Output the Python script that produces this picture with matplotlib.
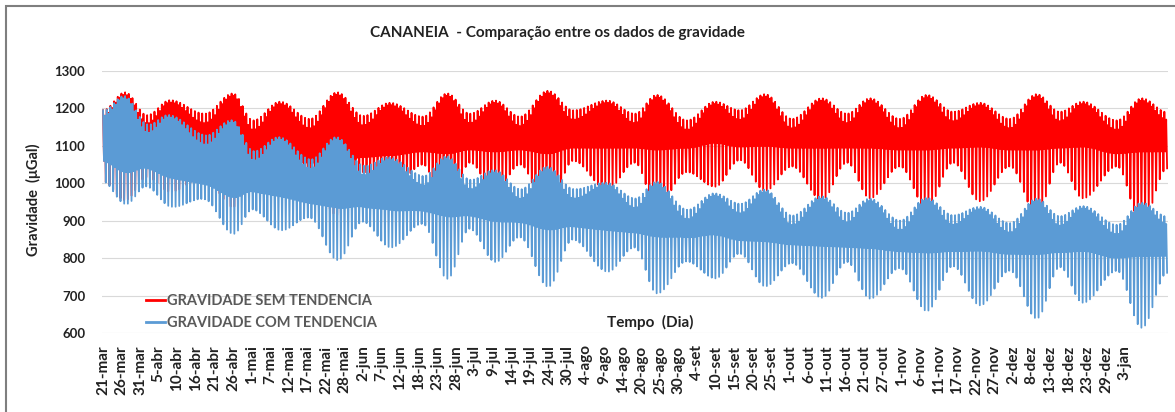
import numpy as np
import matplotlib.pyplot as plt
from matplotlib.lines import Line2D
from matplotlib.patches import Rectangle

plt.rcParams['font.family'] = ['Lato', 'DejaVu Sans']

# extremos quinzenais (sizigia / quadratura), em dias desde 21-mar
key_days = [0, 6.2, 12.4, 18.9, 28.7, 36.6, 42.3, 49.9, 58.3, 66.0, 73.3, 80.9, 90.2, 97.0,
            103.4, 110.5, 117.5, 125.4, 132.5, 142.1, 149.9, 156.1, 164.6, 172.5, 179.5,
            186.6, 194.2, 202.6, 209.7, 216.2, 224.6, 232.2, 239.6, 247.2, 255.6, 263.2,
            269.7, 276.2, 285.8, 292.8, 300]

# gravidade sem tendencia (uGal): maxima alta, segunda alta, baixa rasa, baixa funda
high_a = [1195, 1243, 1182, 1222, 1186, 1240, 1168, 1218, 1172, 1243, 1180, 1215, 1178, 1240,
          1186, 1221, 1178, 1247, 1195, 1221, 1186, 1236, 1168, 1218, 1195, 1238, 1172, 1227,
          1186, 1227, 1172, 1236, 1191, 1215, 1172, 1238, 1191, 1218, 1168, 1227, 1190]
high_b = [1180, 1237, 1160, 1216, 1161, 1234, 1143, 1212, 1147, 1237, 1155, 1209, 1153, 1234,
          1161, 1215, 1153, 1241, 1170, 1215, 1161, 1230, 1143, 1212, 1170, 1232, 1147, 1221,
          1161, 1221, 1147, 1230, 1166, 1209, 1147, 1232, 1166, 1212, 1143, 1221, 1170]
low_a = [1060, 1040, 1065, 1055, 1055, 1035, 1060, 1060, 1055, 1055, 1070, 1075, 1085, 1080,
         1090, 1085, 1090, 1080, 1095, 1095, 1095, 1090, 1095, 1108, 1098, 1100, 1095, 1095,
         1095, 1095, 1090, 1090, 1095, 1098, 1090, 1090, 1095, 1098, 1080, 1085, 1085]
low_b = [1005, 955, 1016, 978, 1015, 937, 1012, 970, 1016, 915, 1030, 975, 1050, 913,
         1055, 976, 1050, 927, 1060, 984, 1055, 938, 1030, 991, 1062, 980, 1045, 956,
         1055, 960, 1045, 934, 1055, 952, 1045, 918, 1055, 960, 1045, 893, 1040]

# tendencia (deriva) entre as duas series
trend_days = [0, 6.2, 18.9, 36.6, 49.9, 66.0, 80.9, 97.0, 110.5, 125.4, 142.1, 156.1, 172.5,
              186.6, 202.6, 216.2, 232.2, 247.2, 263.2, 276.2, 292.8, 300]
trend_vals = [0, -10, -40, -72, -95, -120, -146, -168, -186, -203, -220, -232, -245,
              -255, -262, -268, -275, -278, -279, -279, -279, -279]

tick_labels = ['21-mar', '26-mar', '31-mar', '5-abr', '10-abr', '16-abr', '21-abr', '26-abr',
               '1-mai', '7-mai', '12-mai', '17-mai', '22-mai', '28-mai', '2-jun', '7-jun',
               '12-jun', '18-jun', '23-jun', '28-jun', '3-jul', '9-jul', '14-jul', '19-jul',
               '24-jul', '30-jul', '4-ago', '9-ago', '14-ago', '20-ago', '25-ago', '30-ago',
               '4-set', '10-set', '15-set', '20-set', '25-set', '1-out', '6-out', '11-out',
               '16-out', '21-out', '27-out', '1-nov', '6-nov', '11-nov', '17-nov', '22-nov',
               '27-nov', '2-dez', '8-dez', '13-dez', '18-dez', '23-dez', '29-dez', '3-jan']


def smooth_interp(t, xp, fp):
    xp = np.asarray(xp, float)
    fp = np.asarray(fp, float)
    i = np.clip(np.searchsorted(xp, t, side='right') - 1, 0, len(xp) - 2)
    f = (t - xp[i]) / (xp[i + 1] - xp[i])
    w = (1 - np.cos(np.pi * f)) / 2
    return fp[i] + (fp[i + 1] - fp[i]) * w


# pontos de virada da mare (semi-diurna, ~6.2 h entre alta e baixa)
t = np.arange(0, 300, 0.2588)
k = np.arange(len(t)) % 4
envs = [smooth_interp(t, key_days, e) for e in (high_a, low_a, high_b, low_b)]
sem = np.choose(k, envs)
com = sem + np.interp(t, trend_days, trend_vals)

fig = plt.figure(figsize=(11.75, 4.12), dpi=100)
ax = fig.add_axes([102 / 1175, 1 - 333 / 412, 1066 / 1175, 262 / 412])

ax.plot(t, sem, color='#FF0000', lw=1.3)
ax.plot(t, com, color='#5B9BD5', lw=1.3)

ax.set_ylim(600, 1300)
ax.set_yticks(range(600, 1301, 100))
ax.set_xlim(-0.3, 300.2)
step = 288 / 55
ax.set_xticks([i * step for i in range(len(tick_labels))])
ax.set_xticklabels(tick_labels, rotation=90)
ax.tick_params(length=0, labelcolor='#222222')
ax.tick_params(axis='x', labelsize=11, pad=9)
ax.tick_params(axis='y', labelsize=9.5, pad=12)
for lab in ax.get_xticklabels() + ax.get_yticklabels():
    lab.set_fontweight('bold')
ax.grid(axis='y', color='#D9D9D9', lw=0.8)
ax.set_axisbelow(True)
for s in ax.spines.values():
    s.set_visible(False)

fig.text(557 / 1175, 1 - 33 / 412, 'CANANEIA  - Comparação entre os dados de gravidade',
         ha='center', va='center', fontsize=11, fontweight='bold', color='#222222')
fig.text(33 / 1175, 1 - 200 / 412, 'Gravidade  (μGal)', rotation=90, ha='center', va='center',
         fontsize=10.5, fontweight='bold', color='#222222')
fig.text(650 / 1175, 1 - 322 / 412, 'Tempo  (Dia)', ha='center', va='center',
         fontsize=11, fontweight='bold', color='#222222')

handles = [Line2D([], [], color='#FF0000', lw=2), Line2D([], [], color='#5B9BD5', lw=2)]
ax.legend(handles, ['GRAVIDADE SEM TENDENCIA', 'GRAVIDADE COM TENDENCIA'],
          loc='upper left', bbox_to_anchor=(133 / 1175, 1 - 281 / 412),
          bbox_transform=fig.transFigure, frameon=False, handlelength=1.3,
          handletextpad=0.1, labelspacing=0.55, labelcolor='#595959',
          prop={'weight': 'bold', 'size': 10.5})

fig.patches.append(Rectangle((6 / 1175, -0.1), 1.2, 1.1 - 5.5 / 412,
                             transform=fig.transFigure, fill=False,
                             edgecolor='#7F7F7F', lw=1.5))

fig.savefig('out.png', dpi=100)
